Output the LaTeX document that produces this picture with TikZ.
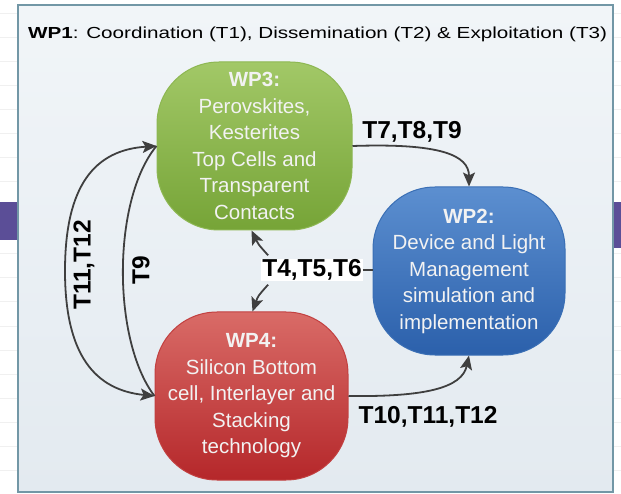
\documentclass[tikz,border=0pt]{standalone}
\usepackage{fontspec}
\setmainfont{Liberation Sans}
\usetikzlibrary{arrows.meta,calc,shadings}
\definecolor{frameline}{HTML}{7297A6}
\definecolor{ftop}{HTML}{F1F5F8}
\definecolor{fbot}{HTML}{E3EAF0}
\definecolor{gtop}{HTML}{A2C867}
\definecolor{gbot}{HTML}{76A437}
\definecolor{gedge}{HTML}{8DB752}
\definecolor{btop}{HTML}{5C8FD0}
\definecolor{bbot}{HTML}{2B60AB}
\definecolor{bedge}{HTML}{3A6FB5}
\definecolor{rtop}{HTML}{D96B67}
\definecolor{rbot}{HTML}{B5272A}
\definecolor{redge}{HTML}{C24040}
\definecolor{arrc}{HTML}{3F3F3F}
\definecolor{purp}{HTML}{5B4E97}
\begin{document}
\begin{tikzpicture}[x=1pt,y=-1pt,
  wpbox/.style={rounded corners=62pt, line width=1pt, text=white!95!black, align=center,
     font=\fontsize{20.5}{26.5}\selectfont, inner sep=0pt, minimum width=193pt, minimum height=168pt},
  conn/.style={draw=arrc, line width=1.8pt},
  tip/.style={-{Stealth[length=14pt,width=12pt,inset=3pt]}},
  both/.style={{Stealth[length=14pt,width=12pt,inset=3pt]}-{Stealth[length=14pt,width=12pt,inset=3pt]}},
  tlabel/.style={font=\fontsize{24.5}{26}\selectfont\bfseries, text=black, inner sep=1pt}]
\useasboundingbox (0,0) rectangle (621,494);
\fill[white] (0,0) rectangle (621,494);
\foreach \yy in {14,38,...,494} {
  \draw[gray!12, line width=1pt] (0,\yy) -- (18,\yy);
  \draw[gray!12, line width=1pt] (613,\yy) -- (621,\yy);
}
\fill[purp] (0,202) rectangle (18,240);
\fill[purp] (612,202) rectangle (621,248);
% frame (WP1)
\draw[draw=frameline, line width=1.6pt, top color=ftop, bottom color=fbot] (18,5) rectangle (613,492);
\node[anchor=west, inner sep=0pt, font=\fontsize{16}{18}\selectfont] (title) at (28,34)
  {\scalebox{1.29}[1]{\textbf{WP1}: Coordination (T1), Dissemination (T2) \& Exploitation (T3)}};
% boxes
\node[wpbox, minimum width=195pt, draw=gedge, top color=gtop, bottom color=gbot] (wp3) at (254.5,146)
  {\textbf{WP3:}\\Perovskites,\\Kesterites\\Top Cells and\\Transparent\\Contacts};
\node[wpbox, minimum width=192pt, draw=bedge, top color=btop, bottom color=bbot] (wp2) at (469,271)
  {\textbf{WP2:}\\Device and Light\\Management\\simulation and\\implementation};
\node[wpbox, draw=redge, top color=rtop, bottom color=rbot] (wp4) at (251.5,396)
  {\textbf{WP4:}\\Silicon Bottom\\cell, Interlayer and\\Stacking\\technology};
% labels
\node[tlabel] (lt789) at (412,132) {T7,T8,T9};
\node[tlabel] (lt1012) at (428,417) {T10,T11,T12};
\node[tlabel, rotate=90] (lt1112) at (84,265) {T11,T12};
\node[tlabel, rotate=90] (lt9) at (141,270) {T9};
\node[tlabel, fill=white] (lt456) at (312,270) {T4,T5,T6};
% connectors
\draw[conn, tip] (wp3.east) .. controls (440,143) and (469,155) .. (wp2.north);
\draw[conn, tip] (wp4.east) .. controls (425,397) and (462,388) .. (wp2.south);
\draw[conn, both] (wp3.west) .. controls (95,150) and (65,185) .. (65,271)
   .. controls (65,355) and (95,390) .. (wp4.west);
\draw[conn] (wp3.west) .. controls (112,200) and (112,340) .. (wp4.west);
\draw[conn] (lt456.east) -- (lt456.east -| wp2.west);
\draw[conn, tip] ($(lt456.north west)+(7,-3)$) .. controls (258,244) .. ($(wp3.south)+(-3,0)$);
\draw[conn, tip] ($(lt456.south west)+(7,3)$) .. controls (258,296) .. ($(wp4.north)+(1,0)$);
\end{tikzpicture}
\end{document}
